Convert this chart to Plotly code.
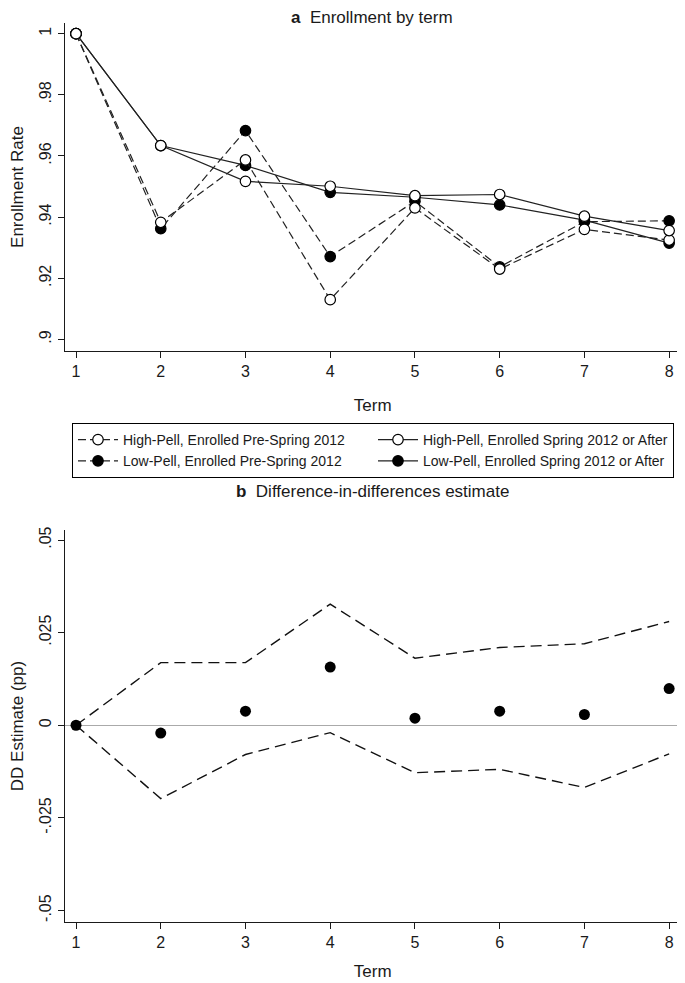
import plotly.graph_objects as go

terms = [1, 2, 3, 4, 5, 6, 7, 8]
hp_pre = [1.0, 0.9383, 0.9587, 0.9130, 0.9430, 0.9230, 0.9360, 0.9325]
lp_pre = [1.0, 0.9362, 0.9683, 0.9271, 0.9452, 0.9237, 0.9385, 0.9388]
hp_post = [1.0, 0.9634, 0.9517, 0.9501, 0.9470, 0.9474, 0.9403, 0.9356]
lp_post = [1.0, 0.9634, 0.9569, 0.9481, 0.9465, 0.9440, 0.9390, 0.9315]

dd_est = [0.0, -0.0021, 0.0038, 0.0157, 0.0019, 0.0038, 0.0029, 0.0099]
ci_hi = [0.0, 0.0169, 0.0169, 0.0327, 0.0181, 0.0210, 0.0220, 0.0280]
ci_lo = [0.0, -0.0198, -0.0079, -0.0020, -0.0128, -0.0119, -0.0168, -0.0077]

top_ticks = [1.0, 0.98, 0.96, 0.94, 0.92, 0.90]
top_ticktext = ["1", ".98", ".96", ".94", ".92", ".9"]
bot_ticks = [0.05, 0.025, 0.0, -0.025, -0.05]
bot_ticktext = [".05", ".025", "0", "-.025", "-.05"]

FONT = "Liberation Sans, Arial, sans-serif"
INK = "#1a1a1a"

# page body has an 8px margin; figure is sized/positioned to compensate
OFF = 8
W, H = 677, 975


def fx(xp):
    return (xp - OFF) / W


def fy(yp):
    return (H - (yp - OFF)) / H


fig = go.Figure()

series = [
    ("Low-Pell, Enrolled Pre-Spring 2012", lp_pre, "dash", "black", 3),
    ("Low-Pell, Enrolled Spring 2012 or After", lp_post, "solid", "black", 4),
    ("High-Pell, Enrolled Pre-Spring 2012", hp_pre, "dash", "white", 1),
    ("High-Pell, Enrolled Spring 2012 or After", hp_post, "solid", "white", 2),
]
for name, vals, dash, fill, rank in series:
    fig.add_trace(go.Scatter(
        x=terms, y=vals, name=name, mode="lines+markers",
        line=dict(color="#222", width=1.2, dash="8px,4px" if dash == "dash" else "solid"),
        marker=dict(symbol="circle", size=10.5, color=fill, line=dict(color="black", width=1.2)),
        legendrank=rank, xaxis="x", yaxis="y",
    ))

fig.add_trace(go.Scatter(
    x=terms, y=ci_hi, mode="lines", showlegend=False,
    line=dict(color="#111", width=1.4, dash="11px,6px"), xaxis="x2", yaxis="y2"))
fig.add_trace(go.Scatter(
    x=terms, y=ci_lo, mode="lines", showlegend=False,
    line=dict(color="#111", width=1.4, dash="11px,6px"), xaxis="x2", yaxis="y2"))
fig.add_trace(go.Scatter(
    x=terms, y=dd_est, mode="markers", showlegend=False,
    marker=dict(symbol="circle", size=11, color="black"), xaxis="x2", yaxis="y2"))

xd = [fx(64.5), fx(681)]
top_y = [fy(351), fy(23)]
bot_y = [fy(922), fy(530)]

axis_common = dict(
    showline=True, linecolor=INK, linewidth=1, mirror=False,
    ticks="outside", ticklen=6, tickcolor=INK, tickwidth=1,
    showgrid=False, automargin=False,
    tickfont=dict(family=FONT, size=16, color=INK),
)

fig.update_layout(
    width=W, height=H,
    margin=dict(l=0, r=0, t=0, b=0),
    paper_bgcolor="white", plot_bgcolor="white",
    font=dict(family=FONT, size=16, color=INK),
    xaxis=dict(domain=xd, anchor="y", range=[0.864, 8.14], zeroline=False,
               tickvals=terms, **axis_common,
               title=dict(text="Term", standoff=19, font=dict(size=17))),
    yaxis=dict(domain=top_y, anchor="x", range=[0.8962, 1.0035], zeroline=False,
               tickvals=top_ticks, ticktext=top_ticktext, tickangle=-90,
               **axis_common,
               title=dict(text="Enrollment Rate", standoff=10, font=dict(size=17))),
    xaxis2=dict(domain=xd, anchor="y2", range=[0.864, 8.14], zeroline=False,
                tickvals=terms, **axis_common,
                title=dict(text="Term", standoff=14, font=dict(size=17))),
    yaxis2=dict(domain=bot_y, anchor="x2", range=[-0.0531, 0.0527],
                tickvals=bot_ticks, ticktext=bot_ticktext, tickangle=-90,
                **axis_common,
                zeroline=True, zerolinecolor="#aaaaaa", zerolinewidth=1,
                title=dict(text="DD Estimate (pp)", standoff=9, font=dict(size=17))),
    legend=dict(
        orientation="h", x=fx(72), y=fy(423), xanchor="left", yanchor="top",
        bordercolor="black", borderwidth=1, bgcolor="white",
        font=dict(family=FONT, size=14, color=INK),
        entrywidth=245, entrywidthmode="pixels", traceorder="normal",
        itemwidth=40,
    ),
    annotations=[
        dict(text="<b>a</b>  Enrollment by term", x=fx(372), y=fy(17),
             xref="paper", yref="paper", showarrow=False,
             font=dict(family=FONT, size=17, color=INK), xanchor="center", yanchor="middle"),
        dict(text="<b>b</b>  Difference-in-differences estimate", x=fx(372), y=fy(491),
             xref="paper", yref="paper", showarrow=False,
             font=dict(family=FONT, size=17, color=INK), xanchor="center", yanchor="middle"),
    ],
)

fig.write_html("out.html")
